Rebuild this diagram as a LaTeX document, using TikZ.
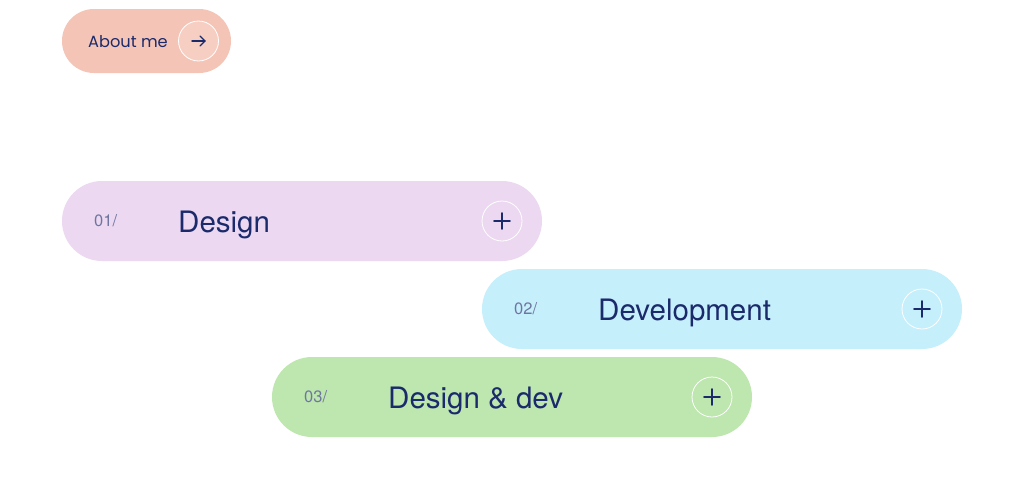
\documentclass[tikz,border=0pt]{standalone}
\usepackage{fontspec}
\usetikzlibrary{calc}
\setmainfont{TeX Gyre Heros}
\newfontfamily\pop{Poppins}
\definecolor{navy}{HTML}{1B2A6B}
\definecolor{numc}{HTML}{6E76A0}
\definecolor{peach}{HTML}{F4C4B6}
\definecolor{peachc}{HTML}{F6CEC2}
\definecolor{lilac}{HTML}{ECD9F1}
\definecolor{sky}{HTML}{C6EFFC}
\definecolor{mint}{HTML}{BDE7AE}
\tikzset{
  pill/.style={rectangle, rounded corners=40pt, minimum width=480pt, minimum height=80pt, inner sep=0pt, draw=none},
  smallpill/.style={rectangle, rounded corners=32pt, minimum width=169pt, minimum height=64pt, inner sep=0pt, draw=none, fill=peach},
  btn/.style={circle, draw=white, line width=0.8pt, minimum size=40pt, inner sep=0pt},
  numtxt/.style={anchor=base west, inner sep=0pt, text=numc, font=\fontsize{16.5}{19}\selectfont},
  titletxt/.style={anchor=base west, inner sep=0pt, text=navy, font=\fontsize{29.5}{34}\selectfont},
  glyph/.style={draw=navy, line width=1.6pt, line cap=round}
}
\begin{document}
\begin{tikzpicture}[x=1pt,y=-1pt]
\useasboundingbox[fill=white] (0,0) rectangle (1009,482);
% About me
\node[smallpill] (about) at (146.5,41) {};
\node[anchor=base west, inner sep=0pt, text=navy, font=\pop\fontsize{16.2}{19}\selectfont] (abouttxt) at (88,47.5) {About me};
\node[btn, fill=peachc] (aboutbtn) at (198.5,41) {};
\coordinate (arl) at ($(aboutbtn)+(-6.5,0)$);
\coordinate (arr) at ($(aboutbtn)+(6.5,0)$);
\draw[glyph, line width=1.4pt] (arl) -- (arr);
\draw[glyph, line width=1.4pt, line join=round] ($(arr)+(-5,-5)$) -- (arr) -- ($(arr)+(-5,5)$);
% Design
\node[pill, fill=lilac] (p1) at (302,221) {};
\node[numtxt] (n1) at (94,226) {01/};
\node[titletxt] (t1) at (178,232) {Design};
\node[btn] (b1) at (502,221) {};
\draw[glyph] ($(b1)+(-8,0)$) -- ($(b1)+(8,0)$);
\draw[glyph] ($(b1)+(0,-8)$) -- ($(b1)+(0,8)$);
% Development
\node[pill, fill=sky] (p2) at (722,309) {};
\node[numtxt] (n2) at (514,314) {02/};
\node[titletxt] (t2) at (598,320) {Development};
\node[btn] (b2) at (922,309) {};
\draw[glyph] ($(b2)+(-8,0)$) -- ($(b2)+(8,0)$);
\draw[glyph] ($(b2)+(0,-8)$) -- ($(b2)+(0,8)$);
% Design & dev
\node[pill, fill=mint] (p3) at (512,397) {};
\node[numtxt] (n3) at (304,402) {03/};
\node[titletxt] (t3) at (388,408) {Design \& dev};
\node[btn] (b3) at (712,397) {};
\draw[glyph] ($(b3)+(-8,0)$) -- ($(b3)+(8,0)$);
\draw[glyph] ($(b3)+(0,-8)$) -- ($(b3)+(0,8)$);
\end{tikzpicture}
\end{document}
